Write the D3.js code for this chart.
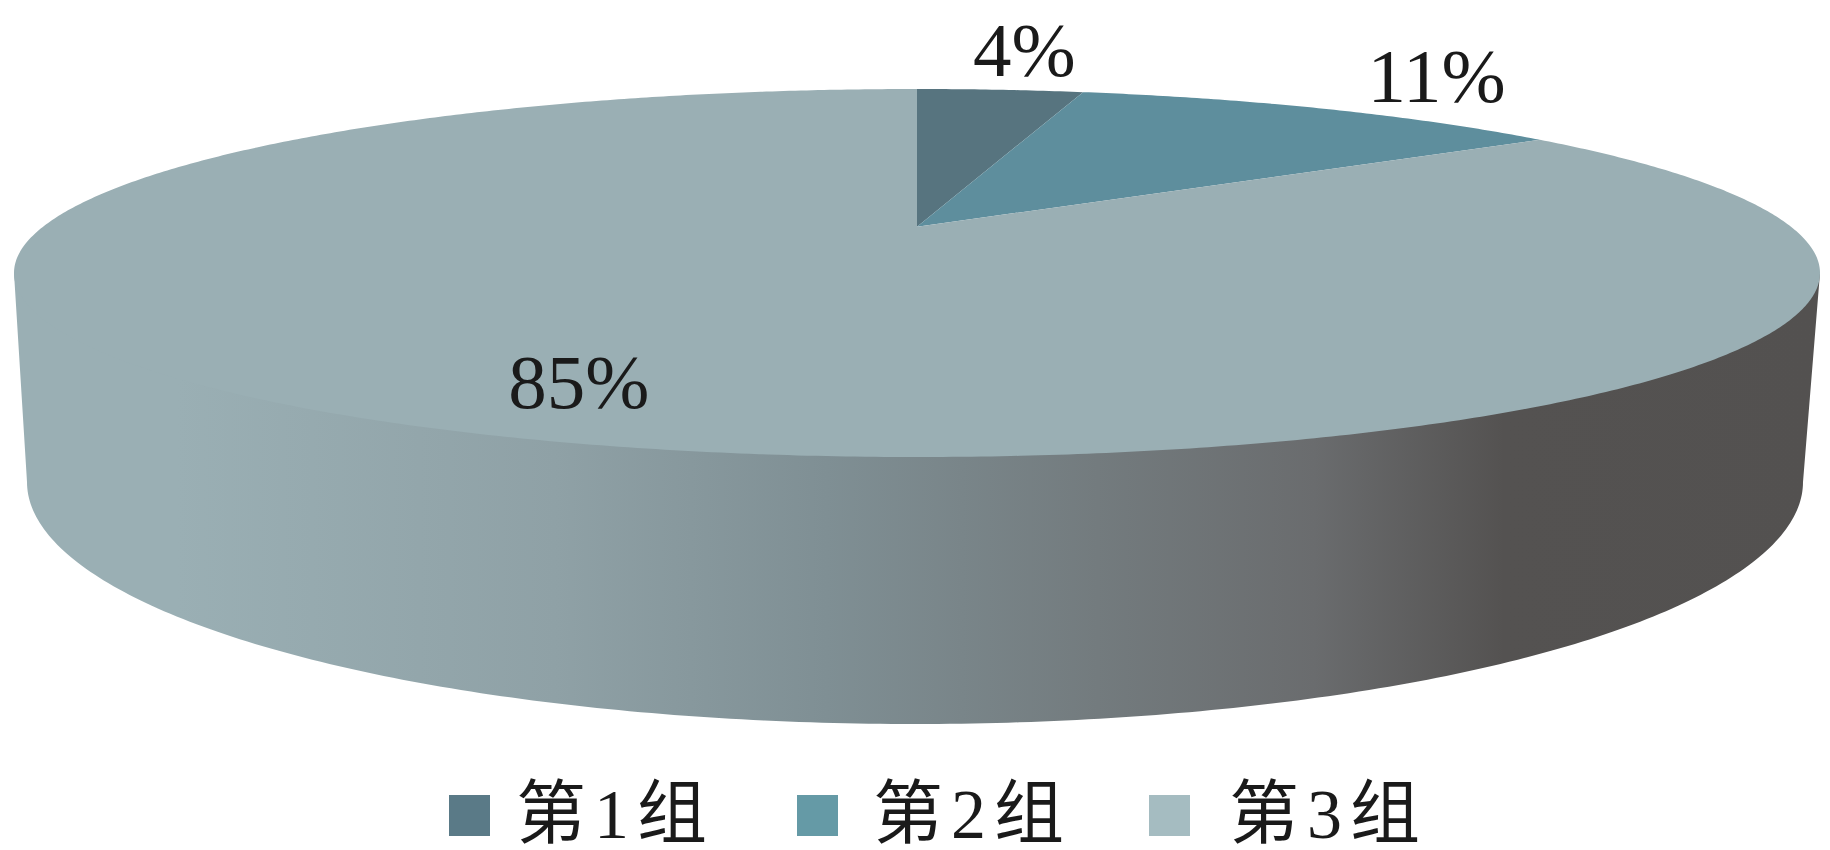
<!DOCTYPE html>
<html>
<head>
<meta charset="utf-8">
<script src="https://cdn.jsdelivr.net/npm/d3@7"></script>
<style>html,body{margin:0;padding:0;background:#fff;overflow:hidden}</style>
</head>
<body>
<svg id="chart" width="1830" height="850"></svg>
<script>
// Data
const categories = ["第1组", "第2组", "第3组"];
const shares = [3.8, 11.4, 84.8];
const labels = ["4%", "11%", "85%"];

// Styles
const topColors = ["#57747f", "#5e8e9d", "#9aafb4"];
const legendColors = ["#5a7a87", "#659aa6", "#a5bcc1"];
const sideStops = [[0, "#9aafb4"], [0.09, "#9aafb4"], [0.3, "#8fa1a6"], [0.45, "#7f8f94"], [0.6, "#737b7e"], [0.72, "#6a6c6e"], [0.825, "#545251"], [1, "#535150"]];
const labelOffsets = [[24, -14], [113, -7], [179, -16]];
const legendSwatchX = [449, 797, 1149];
const legendTextX = [516, 873, 1229];

// Perspective disc geometry
const topEllipse = {cx: 917, cy: 273, rx: 903, ry: 184};
const bottomEllipse = {cx: 915, cy: 482, rx: 888, ry: 242};
const apex = [917, 226.7];
const centerShift = (apex[1] - topEllipse.cy) / topEllipse.ry;

function project(theta) {
  const u = Math.sin(theta), v = -Math.cos(theta), p = centerShift;
  const d = 1 + p * v;
  return [topEllipse.cx + topEllipse.rx * u * Math.sqrt(1 - p * p) / d,
          topEllipse.cy + topEllipse.ry * (v + p) / d];
}
const onEllipse = (e, t) => [e.cx + e.rx * Math.cos(t), e.cy + e.ry * Math.sin(t)];

const svg = d3.select("#chart");
const line = d3.line();
const arcs = d3.pie().sort(null)(shares);
const xs = d3.scaleLinear().domain([0, 1]).range([14, 1820]);

// Side wall: the top disc, drawn afterwards, covers its straight upper edge
const defs = svg.append("defs");
const grad = defs.append("linearGradient").attr("id", "side")
  .attr("gradientUnits", "userSpaceOnUse")
  .attr("x1", xs(0)).attr("x2", xs(1)).attr("y1", 0).attr("y2", 0);
grad.selectAll("stop").data(sideStops).join("stop")
  .attr("offset", d => d[0]).attr("stop-color", d => d[1]);

const front = d3.range(0, 1.0001, 1 / 240).map(f => f * Math.PI);
const wall = [onEllipse(topEllipse, 0), onEllipse(topEllipse, Math.PI)]
  .concat(front.slice().reverse().map(t => onEllipse(bottomEllipse, t)));
svg.append("path").attr("d", line(wall) + "Z").attr("fill", "url(#side)");

// Top slices
svg.append("g").selectAll("path").data(arcs).join("path")
  .attr("d", d => {
    const n = Math.max(8, Math.ceil((d.endAngle - d.startAngle) * 120));
    const pts = d3.range(n + 1).map(i => project(d.startAngle + (d.endAngle - d.startAngle) * i / n));
    return line([apex].concat(pts)) + "Z";
  })
  .attr("fill", (d, i) => topColors[i]);

// Value labels
const font = "'Liberation Serif','Noto Sans CJK SC',serif";
svg.append("g").selectAll("text").data(arcs).join("text")
  .attr("x", (d, i) => project((d.startAngle + d.endAngle) / 2)[0] + labelOffsets[i][0])
  .attr("y", (d, i) => project((d.startAngle + d.endAngle) / 2)[1] + labelOffsets[i][1])
  .attr("text-anchor", "middle")
  .attr("font-family", font).attr("font-size", 77).attr("fill", "#1a1a1a")
  .text((d, i) => labels[i]);

// Legend
const legend = svg.append("g").selectAll("g").data(categories).join("g");
legend.append("rect")
  .attr("x", (d, i) => legendSwatchX[i]).attr("y", 795)
  .attr("width", 41).attr("height", 41)
  .attr("fill", (d, i) => legendColors[i]);
legend.append("text")
  .attr("x", (d, i) => legendTextX[i]).attr("y", 838)
  .attr("font-family", font).attr("font-size", 70)
  .attr("letter-spacing", 8).attr("fill", "#1a1a1a")
  .text(d => d);
</script>
</body>
</html>
